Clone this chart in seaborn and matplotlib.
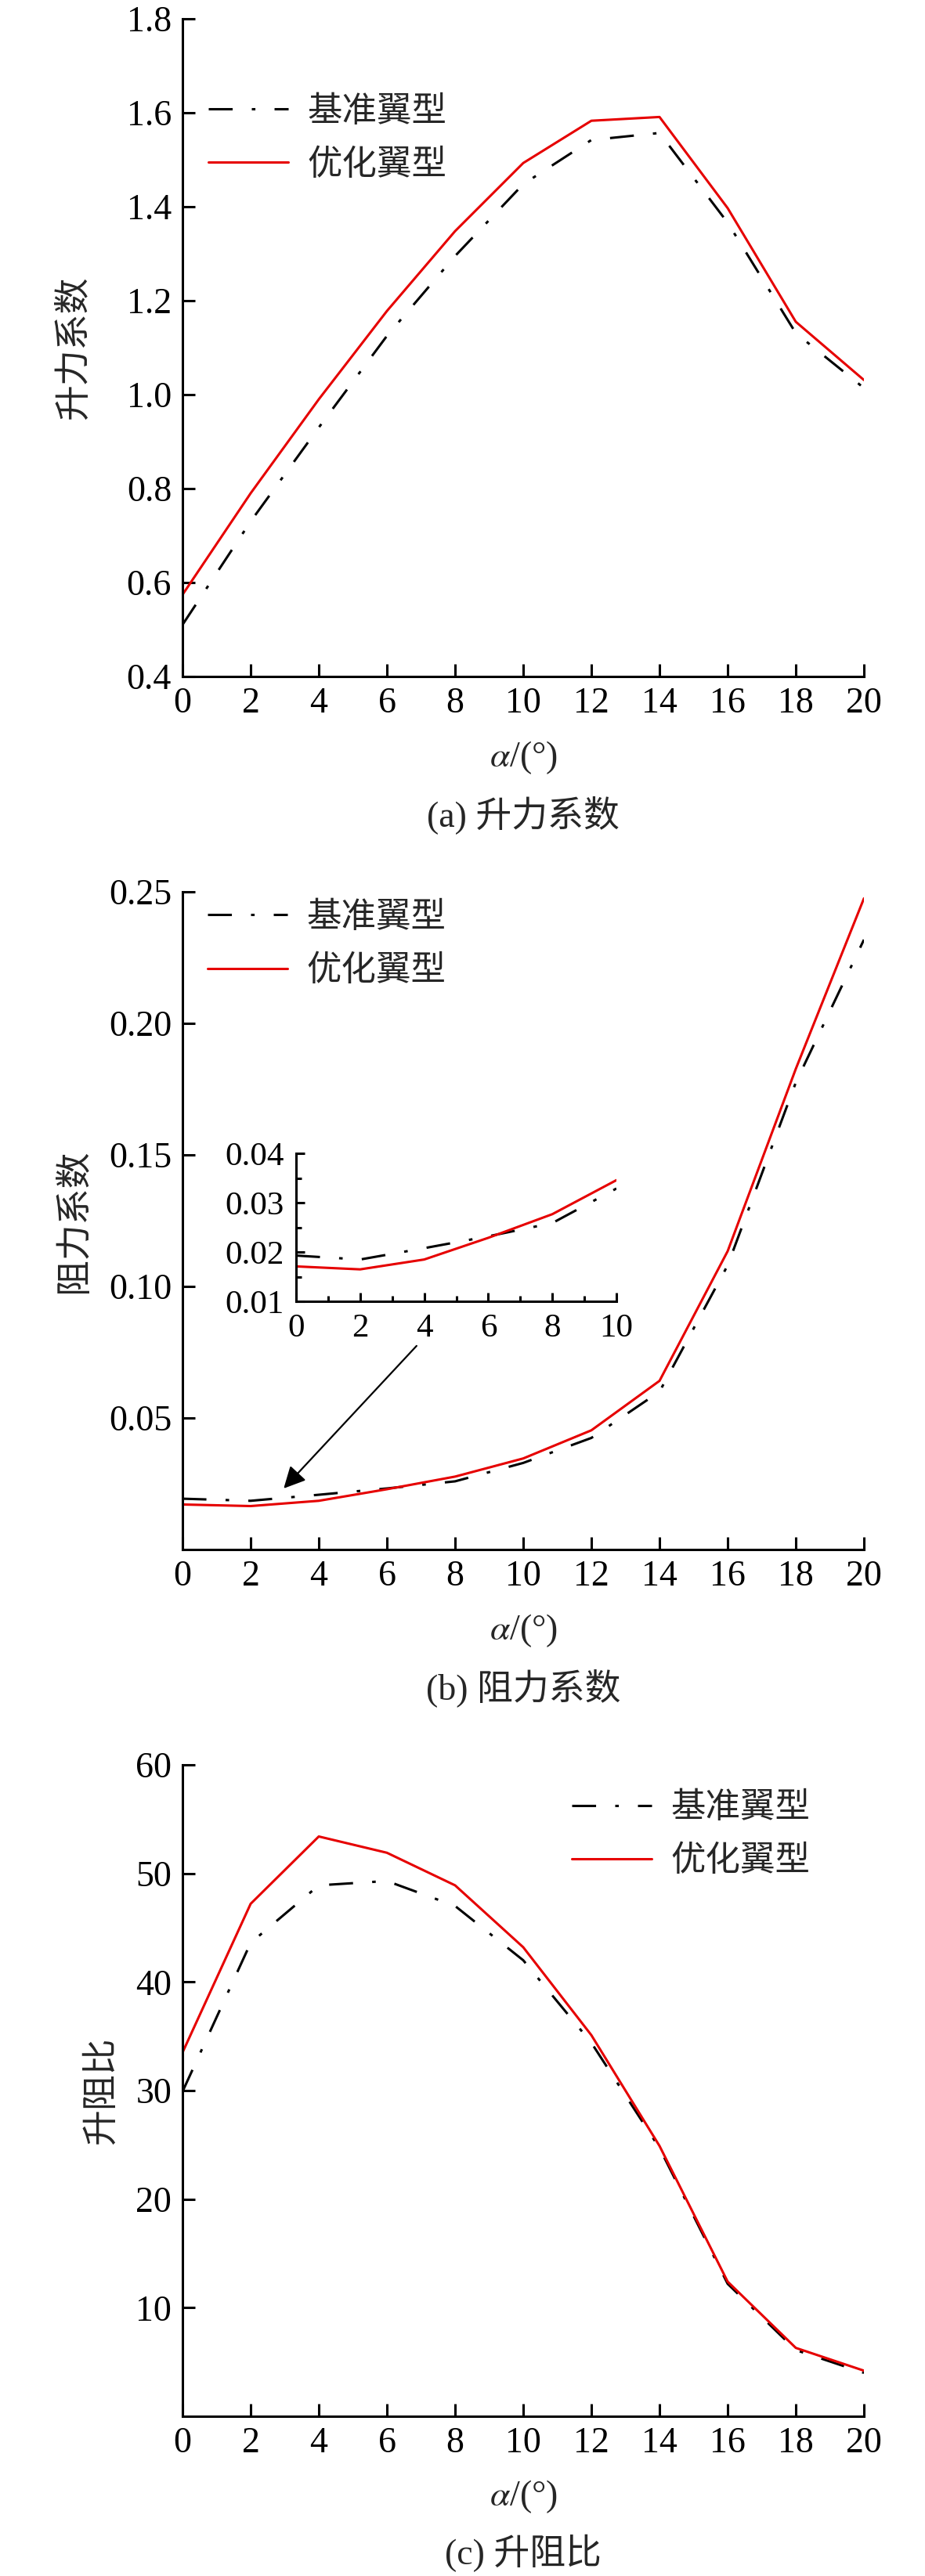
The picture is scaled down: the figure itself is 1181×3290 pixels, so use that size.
import numpy as np
import pandas as pd
import seaborn as sns
import matplotlib
matplotlib.use("Agg")
import matplotlib.pyplot as plt

# angle of attack
alpha = [0, 2, 4, 6, 8, 10, 12, 14, 16, 18, 20]
names = ["基准翼型", "优化翼型"]

# (a) lift coefficient
cl_base = [0.51, 0.73, 0.93, 1.125, 1.295, 1.448, 1.542, 1.557, 1.366, 1.131, 1.014]
cl_opt = [0.574, 0.79, 0.99, 1.178, 1.348, 1.493, 1.583, 1.591, 1.397, 1.155, 1.031]

# (b) drag coefficient
cd_base = [0.0193, 0.0185, 0.0208, 0.0232, 0.0259, 0.0329, 0.0424, 0.0600, 0.1080, 0.1775, 0.2318]
cd_opt = [0.0171, 0.0165, 0.0185, 0.0229, 0.0277, 0.0346, 0.0453, 0.0641, 0.1134, 0.1827, 0.2475]

# (c) lift-drag ratio
ld_base = [29.9, 43.6, 48.9, 49.3, 47.0, 42.0, 34.4, 24.7, 12.2, 6.1, 4.0]
ld_opt = [33.5, 47.2, 53.4, 51.9, 48.9, 43.2, 35.1, 24.9, 12.4, 6.3, 4.2]

sns.set_style("ticks")
plt.rcParams['font.family'] = ['Liberation Serif', 'Noto Sans CJK SC']
plt.rcParams['mathtext.fontset'] = 'stix'
plt.rcParams['axes.unicode_minus'] = False

FS = 33
LEG_FS = 32
LW = 2.2
palette = {"基准翼型": "black", "优化翼型": "#e60000"}
dashes = {"基准翼型": (10, 8, 1.5, 8), "优化翼型": ""}


def long_df(base, opt):
    return pd.DataFrame({
        "alpha": alpha * 2,
        "value": list(base) + list(opt),
        "airfoil": [names[0]] * len(alpha) + [names[1]] * len(alpha),
    })


def style_axes(ax, length=11.5, pad=10, size=FS):
    sns.despine(ax=ax)
    for s in ["left", "bottom"]:
        ax.spines[s].set_linewidth(LW)
        ax.spines[s].set_color("black")
    ax.tick_params(axis="both", which="major", direction="in", length=length,
                   width=LW, labelsize=size, pad=pad, colors="black")


def draw_panel(ax, df, ylim, yticks, yfmt, ylabel, caption, leg_xy, ylab_x):
    sns.lineplot(data=df, x="alpha", y="value", hue="airfoil", style="airfoil",
                 palette=palette, dashes=dashes, linewidth=LW, ax=ax,
                 hue_order=names, style_order=names)
    ax.set_xlim(0, 20)
    ax.set_ylim(*ylim)
    ax.set_xticks(range(0, 21, 2))
    ax.set_yticks(yticks)
    ax.set_yticklabels([yfmt.format(v) for v in yticks])
    style_axes(ax)
    ax.set_xlabel(r"$\alpha$/(°)", fontsize=FS)
    ax.xaxis.label.set_va("center")
    ax.xaxis.set_label_coords(0.5, -104 / 840)
    ax.set_ylabel(ylabel, fontsize=FS)
    ax.yaxis.label.set_va("center")
    ax.yaxis.set_label_coords(ylab_x, 0.5)
    ax.text(0.5, -177 / 840, caption, transform=ax.transAxes,
            ha="center", va="center", fontsize=FS)
    handles, labels = ax.get_legend_handles_labels()
    ax.legend(handles, labels, loc="upper left", bbox_to_anchor=leg_xy,
              frameon=False, fontsize=LEG_FS, handlelength=2.3, handletextpad=0.55,
              labelspacing=0.6, borderpad=0, borderaxespad=0)


fig = plt.figure(figsize=(11.81, 32.90), dpi=100)
ax_a = fig.add_axes([0.1973, 0.7374, 0.7367, 0.2553])
ax_b = fig.add_axes([0.1973, 0.3985, 0.7367, 0.2553])
ax_c = fig.add_axes([0.1973, 0.0620, 0.7367, 0.2529])

draw_panel(ax_a, long_df(cl_base, cl_opt), (0.4, 1.8), np.arange(0.4, 1.81, 0.2), "{:.1f}",
           "升力系数", "(a) 升力系数", (0.038, 0.883), -0.158)
draw_panel(ax_b, long_df(cd_base, cd_opt), (0, 0.25), [0.05, 0.10, 0.15, 0.20, 0.25], "{:.2f}",
           "阻力系数", "(b) 阻力系数", (0.037, 0.985), -0.158)
draw_panel(ax_c, long_df(ld_base, ld_opt), (0, 60), [10, 20, 30, 40, 50, 60], "{:.0f}",
           "升阻比", "(c) 升阻比", (0.571, 0.958), -0.118)

# arrow pointing from the inset to the low-angle drag region
ax_b.annotate("", xy=(2.97, 0.0232), xytext=(6.87, 0.0774),
              arrowprops=dict(arrowstyle="-|>", color="black", lw=1.6,
                              mutation_scale=42, shrinkA=0, shrinkB=0))

# inset: drag coefficient for 0-10 deg
ax_in = fig.add_axes([0.3201, 0.4948, 0.3463, 0.0574])
df_in = long_df(cd_base, cd_opt)
df_in = df_in[df_in["alpha"] <= 10]
sns.lineplot(data=df_in, x="alpha", y="value", hue="airfoil", style="airfoil",
             palette=palette, dashes=dashes, linewidth=LW, ax=ax_in,
             hue_order=names, style_order=names, legend=False)
ax_in.set_xlim(0, 10)
ax_in.set_ylim(0.01, 0.04)
ax_in.set_xticks(range(0, 11, 2))
ax_in.set_xticks(range(1, 10, 2), minor=True)
ax_in.set_yticks([0.01, 0.02, 0.03, 0.04])
ax_in.set_yticklabels(["0.01", "0.02", "0.03", "0.04"])
ax_in.set_yticks([0.015, 0.025, 0.035], minor=True)
style_axes(ax_in, length=8, pad=11, size=31)
ax_in.tick_params(which="minor", direction="in", length=5, width=LW, colors="black")
ax_in.set_xlabel("")
ax_in.set_ylabel("")
ax_in.patch.set_alpha(0)

fig.savefig("out.png", dpi=100)
